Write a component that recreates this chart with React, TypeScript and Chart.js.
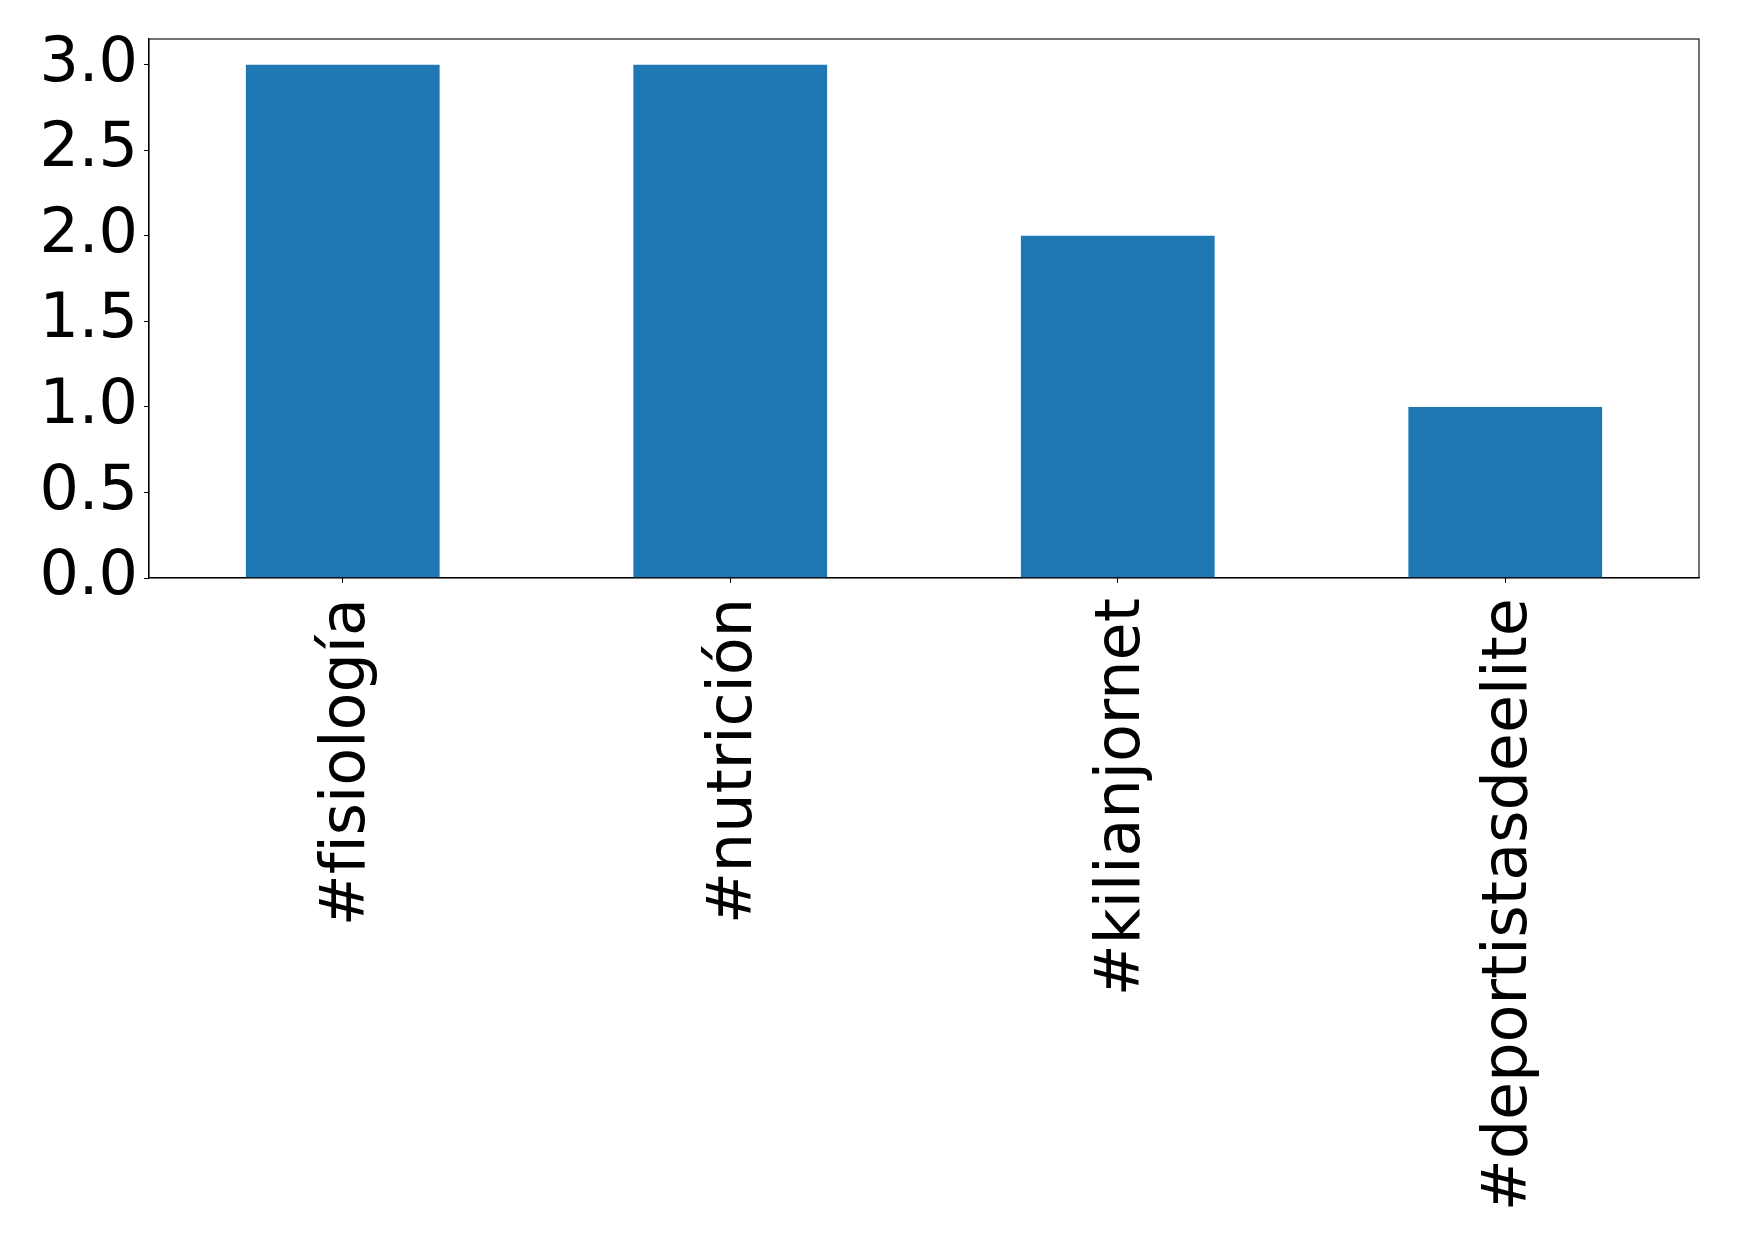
import React, { useEffect, useRef } from "react";
import { Chart, registerables } from "chart.js";

Chart.register(...registerables);

const categories = ["#fisiología", "#nutrición", "#kilianjornet", "#deportistasdeelite"];
const counts = [3, 3, 2, 1];
const yTicks = [0, 0.5, 1.0, 1.5, 2.0, 2.5, 3.0];
const yMax = 3.15;

const W = 1739;
const H = 1246;
const PLOT_LEFT = 149;
const PLOT_TOP = 39;
const PLOT_RIGHT = 1699;
const PLOT_BOTTOM = 578;

const frame = {
  id: "frame",
  afterDatasetsDraw(chart: any) {
    const { ctx, chartArea } = chart;
    ctx.save();
    ctx.strokeStyle = "#000";
    ctx.lineWidth = 1.1;
    ctx.strokeRect(chartArea.left, chartArea.top, chartArea.right - chartArea.left, chartArea.bottom - chartArea.top);
    ctx.restore();
  },
};

export default function App() {
  const ref = useRef<HTMLCanvasElement | null>(null);
  useEffect(() => {
    document.body.style.margin = "0";
    const font = { family: "'DejaVu Sans', sans-serif", size: 62, lineHeight: 1 };
    const chart = new Chart(ref.current as HTMLCanvasElement, {
      type: "bar",
      data: {
        labels: categories,
        datasets: [
          {
            data: counts,
            backgroundColor: "#1f77b4",
            borderWidth: 0,
            barPercentage: 0.5,
            categoryPercentage: 1,
          },
        ],
      },
      plugins: [frame],
      options: {
        animation: false,
        responsive: false,
        devicePixelRatio: 1,
        layout: { padding: { top: PLOT_TOP, right: W - PLOT_RIGHT, left: 0, bottom: 0 } },
        plugins: { legend: { display: false }, tooltip: { enabled: false } },
        scales: {
          x: {
            grid: { display: true, drawOnChartArea: false, drawTicks: true, tickLength: 5, color: "#000", offset: false },
            border: { display: true, color: "#000", width: 1.1 },
            ticks: {
              color: "#000",
              font,
              minRotation: 90,
              maxRotation: 90,
              padding: 15,
              labelOffset: 5,
              autoSkip: false,
              callback: (_v: any, i: number) => categories[i].replace(/fi/g, "f\u200Ci"),
            },
            afterFit: (s: any) => {
              s.height = H - PLOT_BOTTOM;
            },
          },
          y: {
            min: 0,
            max: yMax,
            grid: { display: true, drawOnChartArea: false, drawTicks: true, tickLength: 5, color: "#000" },
            border: { display: true, color: "#000", width: 1.1 },
            ticks: {
              color: "#000",
              font,
              padding: 6,
              includeBounds: false,
              callback: (v: any) => Number(v).toFixed(1),
            },
            afterBuildTicks: (s: any) => {
              s.ticks = yTicks.map((v) => ({ value: v }));
            },
            afterFit: (s: any) => {
              s.width = PLOT_LEFT;
            },
          },
        },
      },
    });
    return () => chart.destroy();
  }, []);
  return (
    <div style={{ position: "absolute", left: 0, top: 0, width: W, height: H, background: "#fff" }}>
      <canvas ref={ref} width={W} height={H} style={{ width: W, height: H }} />
    </div>
  );
}
